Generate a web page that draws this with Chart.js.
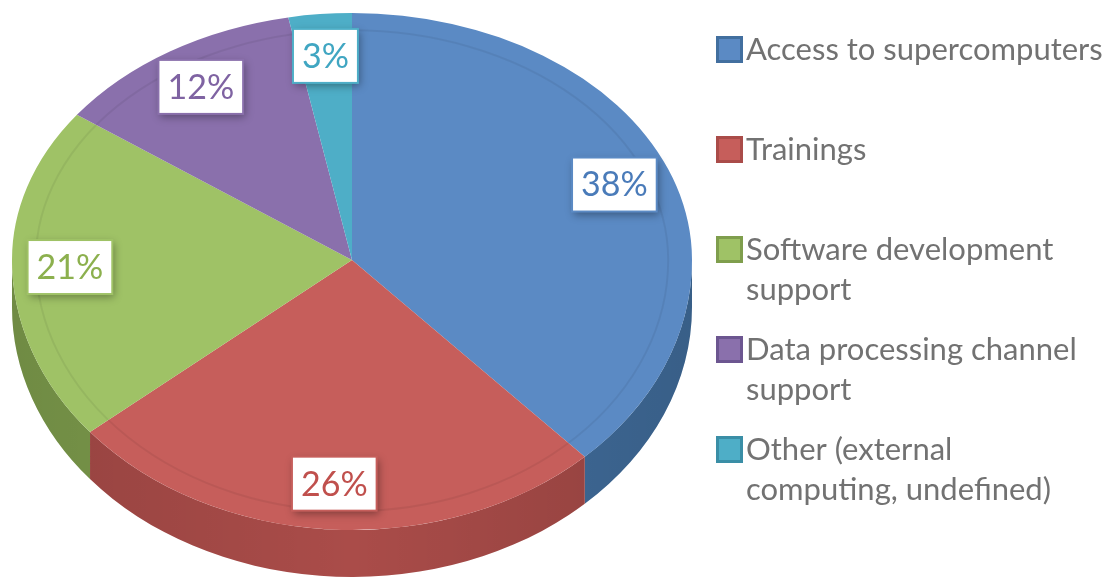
<!DOCTYPE html>
<html>
<head>
<meta charset="utf-8">
<script src="https://cdn.jsdelivr.net/npm/chart.js@4.4.1/dist/chart.umd.min.js"></script>
<style>
  html, body { margin: 0; padding: 0; background: #fff; }
  #wrap { width: 1109px; height: 577px; position: relative; }
</style>
</head>
<body>
<div id="wrap"><canvas id="pieChart" width="1109" height="577"></canvas></div>
<script>
// Data
var labels = [
    'Access to supercomputers',
    'Trainings',
    ['Software development', 'support'],
    ['Data processing channel', 'support'],
    ['Other (external', 'computing, undefined)']
];
var shares = [38, 26, 21, 12, 3];
var topColors = ['#5b8ac4', '#c65e5b', '#9fc266', '#8a70ac', '#4eaec7'];
var sideColors = ['#426f9f', '#aa4c49', '#7f9e4d', '#6c5690', '#3a8ea6'];
var textColors = ['#4a7bb9', '#c0504d', '#8cb04e', '#7f63a2', '#40a6c2'];

// tilted pie: wider front half fakes the perspective
var CX = 352, CY = 260, RX = 340, RY_TOP = 247, RY_BOT = 270, DEPTH = 47;

var pie3d = {
    id: 'pie3d',
    beforeDatasetsDraw: function (chart) {
        var ctx = chart.ctx;
        var arcs = chart.getDatasetMeta(0).data;
        var ax = arcs[0].x, ay = arcs[0].y, r = arcs[0].outerRadius;

        // side wall, front half only
        arcs.forEach(function (arc, i) {
            var lo = Math.max(arc.startAngle, 0), hi = Math.min(arc.endAngle, Math.PI);
            if (hi <= lo) return;
            ctx.save();
            ctx.beginPath();
            ctx.ellipse(CX, CY, RX, RY_BOT, 0, lo, hi);
            ctx.ellipse(CX, CY + DEPTH, RX, RY_BOT, 0, hi, lo, true);
            ctx.closePath();
            var g = ctx.createLinearGradient(CX - RX, 0, CX + RX, 0);
            g.addColorStop(0, 'rgba(0,0,0,0.12)');
            g.addColorStop(0.5, 'rgba(0,0,0,0)');
            g.addColorStop(1, 'rgba(0,0,0,0.15)');
            ctx.fillStyle = sideColors[i];
            ctx.fill();
            ctx.fillStyle = g;
            ctx.fill();
            ctx.restore();
        });

        // top face, drawn in two halves
        [[0, CY, RY_TOP], [CY, 577, RY_BOT]].forEach(function (h) {
            ctx.save();
            ctx.beginPath();
            ctx.rect(0, h[0], chart.width, h[1] - h[0]);
            ctx.clip();
            ctx.translate(CX, CY);
            ctx.scale(RX / r, h[2] / r);
            ctx.translate(-ax, -ay);
            arcs.forEach(function (arc) { arc.draw(ctx); });
            ctx.restore();
        });
        return false;
    },
    afterDraw: function (chart) {
        var ctx = chart.ctx;
        var arcs = chart.getDatasetMeta(0).data;

        // faint bevel ring
        ctx.save();
        ctx.strokeStyle = 'rgba(0,0,0,0.06)';
        ctx.lineWidth = 2;
        ctx.beginPath();
        ctx.ellipse(CX, CY, RX * 0.93, RY_TOP * 0.93, 0, Math.PI, Math.PI * 2);
        ctx.stroke();
        ctx.beginPath();
        ctx.ellipse(CX, CY, RX * 0.93, RY_BOT * 0.93, 0, 0, Math.PI);
        ctx.stroke();
        ctx.restore();

        // percent labels
        var total = shares.reduce(function (a, b) { return a + b; }, 0);
        arcs.forEach(function (arc, i) {
            var mid = (arc.startAngle + arc.endAngle) / 2;
            var ry = Math.sin(mid) < 0 ? RY_TOP : RY_BOT;
            var x = CX + Math.cos(mid) * RX * 0.83;
            var y = CY + Math.sin(mid) * ry * 0.83;
            var txt = Math.round(shares[i] / total * 100) + '%';
            ctx.save();
            ctx.font = '34px Lato';
            var w = ctx.measureText(txt).width + 18, h = 54;
            ctx.shadowColor = 'rgba(0,0,0,0.35)';
            ctx.shadowBlur = 8;
            ctx.shadowOffsetX = 2;
            ctx.shadowOffsetY = 3;
            ctx.fillStyle = '#fff';
            ctx.fillRect(x - w / 2, y - h / 2, w, h);
            ctx.shadowColor = 'transparent';
            ctx.strokeStyle = topColors[i];
            ctx.lineWidth = 2;
            ctx.strokeRect(x - w / 2, y - h / 2, w, h);
            ctx.fillStyle = textColors[i];
            ctx.textAlign = 'center';
            ctx.textBaseline = 'middle';
            ctx.fillText(txt, x, y + 1);
            ctx.restore();
        });

        // legend on the right
        ctx.save();
        labels.forEach(function (lab, i) {
            var lines = Array.isArray(lab) ? lab : [lab];
            var y = 50 + i * 100;
            ctx.fillStyle = sideColors[i];
            ctx.fillRect(716, y - 14, 27, 27);
            ctx.fillStyle = topColors[i];
            ctx.fillRect(719, y - 11, 21, 21);
            ctx.font = '31px Lato';
            ctx.fillStyle = '#727272';
            ctx.textBaseline = 'middle';
            lines.forEach(function (ln, j) {
                ctx.fillText(ln, 746, y + j * 40);
            });
        });
        ctx.restore();
    }
};

var ctx = document.getElementById('pieChart').getContext('2d');
var pieChart = new Chart(ctx, {
    type: 'pie',
    data: {
        labels: labels,
        datasets: [{
            data: shares,
            backgroundColor: topColors,
            borderWidth: 0
        }]
    },
    options: {
        responsive: false,
        animation: false,
        events: [],
        layout: {
            padding: { left: 12, right: 417, top: 13, bottom: 54 }
        },
        plugins: {
            legend: { display: false },
            tooltip: { enabled: false }
        }
    },
    plugins: [pie3d]
});
</script>
</body>
</html>
